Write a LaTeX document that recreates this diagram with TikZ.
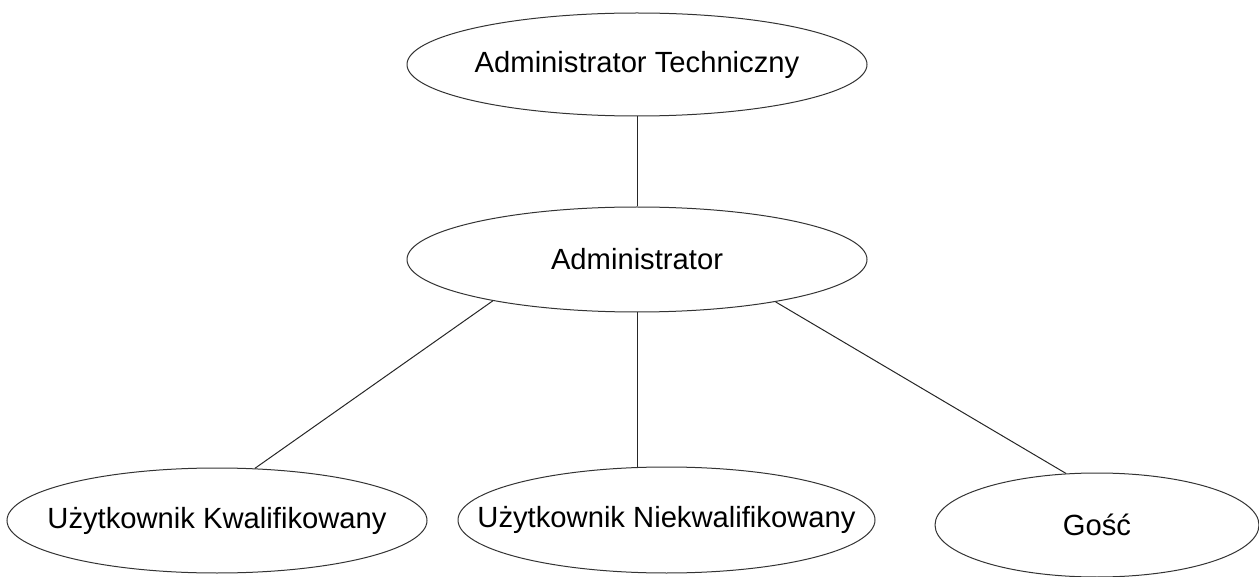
\documentclass[tikz,border=0pt]{standalone}
\usepackage{fontspec}
\setmainfont{Liberation Sans}
\usetikzlibrary{shapes.geometric}
\begin{document}
\begin{tikzpicture}[x=0.5pt,y=-0.5pt,
  role/.style={ellipse,draw=black!80,line width=0.5pt,inner sep=0pt,
    font=\fontsize{14.6}{17}\selectfont},
  link/.style={draw=black!85,line width=0.5pt}]
\useasboundingbox (0,0) rectangle (1259,577);
\node[role,minimum width=230pt,minimum height=51.5pt] (tech) at (637,64.5) {\makebox[0pt]{Administrator Techniczny}};
\node[role,minimum width=230pt,minimum height=52.5pt] (adm) at (637,259.5) {\makebox[0pt]{Administrator}};
\node[role,minimum width=210pt,minimum height=52.5pt] (kw) at (217,520.5) {\makebox[0pt]{Użytkownik Kwalifikowany}};
\node[role,minimum width=208.5pt,minimum height=53pt] (nkw) at (666.5,520) {\makebox[0pt]{Użytkownik Niekwalifikowany}};
\node[role,minimum width=162pt,minimum height=52pt] (gosc) at (1097,525) {\makebox[0pt]{Gość}};
\draw[link] (tech.south) -- (adm.north);
\draw[link] (adm.196) -- (kw.54);
\draw[link] (adm.south) -- (adm.south |- nkw.north);
\draw[link] (adm.343) -- (gosc.121);
\end{tikzpicture}
\end{document}
